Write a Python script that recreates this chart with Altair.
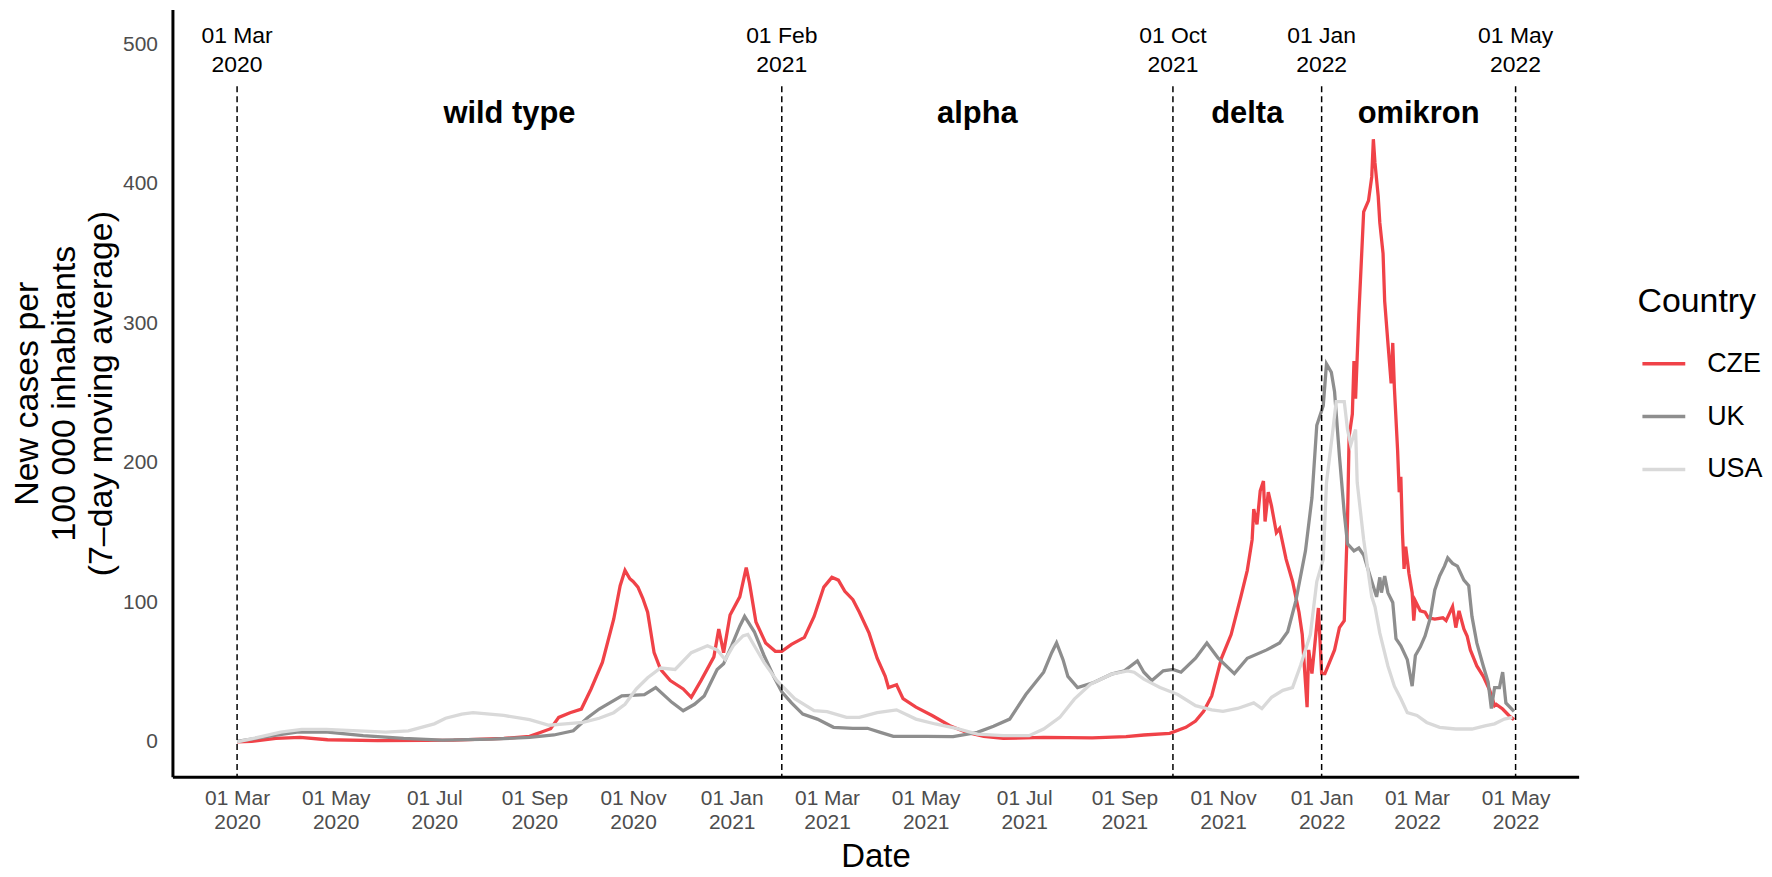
import altair as alt
import pandas as pd

# ---------------- data ----------------
countries = ["CZE", "UK", "USA"]
country_colors = ["#f04248", "#8e8e8e", "#d9d9d9"]

cze_dates = [
    "2020-03-01", "2020-03-10", "2020-03-25", "2020-04-09", "2020-04-26", "2020-05-27",
    "2020-06-25", "2020-07-13", "2020-08-13", "2020-08-29", "2020-09-05", "2020-09-11",
    "2020-09-16", "2020-09-23", "2020-09-30", "2020-10-06", "2020-10-13", "2020-10-20",
    "2020-10-24", "2020-10-27", "2020-10-30", "2020-11-01", "2020-11-04", "2020-11-07",
    "2020-11-10", "2020-11-14", "2020-11-18", "2020-11-24", "2020-12-02", "2020-12-07",
    "2020-12-13", "2020-12-21", "2020-12-24", "2020-12-27", "2020-12-31", "2021-01-06",
    "2021-01-10", "2021-01-12", "2021-01-16", "2021-01-22", "2021-01-28", "2021-02-01",
    "2021-02-07", "2021-02-15", "2021-02-21", "2021-02-27", "2021-03-04", "2021-03-08",
    "2021-03-12", "2021-03-17", "2021-03-21", "2021-03-27", "2021-04-01", "2021-04-06",
    "2021-04-08", "2021-04-13", "2021-04-17", "2021-04-25", "2021-05-05", "2021-05-16",
    "2021-05-26", "2021-06-06", "2021-06-18", "2021-07-13", "2021-08-12", "2021-09-02",
    "2021-09-13", "2021-09-29", "2021-10-09", "2021-10-15", "2021-10-20", "2021-10-25",
    "2021-10-31", "2021-11-06", "2021-11-12", "2021-11-16", "2021-11-19", "2021-11-20",
    "2021-11-22", "2021-11-24", "2021-11-26", "2021-11-27", "2021-11-29", "2021-12-01",
    "2021-12-04", "2021-12-06", "2021-12-10", "2021-12-14", "2021-12-18", "2021-12-20",
    "2021-12-23", "2021-12-24", "2021-12-26", "2021-12-30", "2022-01-01", "2022-01-03",
    "2022-01-09", "2022-01-12", "2022-01-15", "2022-01-17", "2022-01-18", "2022-01-20",
    "2022-01-21", "2022-01-22", "2022-01-24", "2022-01-27", "2022-01-30", "2022-02-01",
    "2022-02-02", "2022-02-03", "2022-02-05", "2022-02-06", "2022-02-08", "2022-02-09",
    "2022-02-11", "2022-02-13", "2022-02-14", "2022-02-15", "2022-02-17", "2022-02-18",
    "2022-02-19", "2022-02-20", "2022-02-21", "2022-02-22", "2022-02-24", "2022-02-26",
    "2022-02-27", "2022-02-28", "2022-03-03", "2022-03-06", "2022-03-08", "2022-03-12",
    "2022-03-17", "2022-03-19", "2022-03-23", "2022-03-25", "2022-03-27", "2022-03-30",
    "2022-04-01", "2022-04-03", "2022-04-07", "2022-04-11", "2022-04-15", "2022-04-18",
    "2022-04-19", "2022-04-23", "2022-04-27", "2022-04-30",
]
cze_values = [
    0, 0.5, 2.6, 3.3, 1.6, 1.0,
    1.2, 1.4, 2.6, 4, 7, 9.5,
    17.6, 21, 23.6, 38, 57, 88,
    112, 123, 117, 115, 111, 103,
    93, 64, 52, 44, 38, 32,
    44, 61, 81, 64, 91, 104,
    125, 114, 86, 71, 65, 65,
    70, 75, 90, 111, 118, 116,
    108, 102, 93, 78, 60, 47,
    39, 41, 31, 25, 19, 11.6,
    7, 4, 2.6, 3.3, 2.9, 3.8,
    5, 6.2, 10.5, 15, 22, 33,
    60, 77, 104, 123, 145, 167,
    156, 180, 187, 158, 179, 169,
    150, 153, 131, 115, 93, 77,
    25, 66, 49, 96, 49, 49,
    66, 82, 87, 158, 219, 235,
    273, 246, 306, 380, 388, 405,
    432, 415, 391, 372, 350, 316,
    286, 257, 286, 254, 209, 179,
    190, 150, 124, 140, 121, 107,
    87, 101, 94, 93, 89, 88,
    89, 87, 97, 82, 94, 81,
    76, 66, 54.5, 47, 37, 26,
    27, 23.6, 18.8, 16,
]

uk_dates = [
    "2020-03-01", "2020-03-18", "2020-04-07", "2020-04-26", "2020-05-18", "2020-06-12",
    "2020-07-06", "2020-08-06", "2020-08-29", "2020-09-13", "2020-09-25", "2020-10-04",
    "2020-10-11", "2020-10-25", "2020-11-08", "2020-11-15", "2020-11-25", "2020-12-02",
    "2020-12-09", "2020-12-15", "2020-12-23", "2020-12-27", "2021-01-01", "2021-01-06",
    "2021-01-09", "2021-01-15", "2021-01-21", "2021-01-27", "2021-02-01", "2021-02-07",
    "2021-02-14", "2021-02-23", "2021-03-05", "2021-03-17", "2021-03-26", "2021-04-03",
    "2021-04-11", "2021-05-01", "2021-05-18", "2021-06-02", "2021-06-12", "2021-06-22",
    "2021-07-02", "2021-07-13", "2021-07-18", "2021-07-21", "2021-07-25", "2021-07-28",
    "2021-08-03", "2021-08-13", "2021-08-24", "2021-09-01", "2021-09-09", "2021-09-13",
    "2021-09-18", "2021-09-25", "2021-10-01", "2021-10-06", "2021-10-15", "2021-10-22",
    "2021-10-29", "2021-11-08", "2021-11-16", "2021-11-28", "2021-12-06", "2021-12-11",
    "2021-12-16", "2021-12-22", "2021-12-26", "2021-12-29", "2022-01-02", "2022-01-04",
    "2022-01-07", "2022-01-09", "2022-01-12", "2022-01-15", "2022-01-17", "2022-01-21",
    "2022-01-24", "2022-01-27", "2022-02-01", "2022-02-04", "2022-02-06", "2022-02-07",
    "2022-02-09", "2022-02-11", "2022-02-14", "2022-02-16", "2022-02-19", "2022-02-23",
    "2022-02-26", "2022-02-28", "2022-03-03", "2022-03-06", "2022-03-09", "2022-03-12",
    "2022-03-15", "2022-03-18", "2022-03-20", "2022-03-23", "2022-03-26", "2022-03-30",
    "2022-04-02", "2022-04-04", "2022-04-07", "2022-04-11", "2022-04-14", "2022-04-16",
    "2022-04-18", "2022-04-21", "2022-04-23", "2022-04-25", "2022-04-30",
]
uk_values = [
    0.5, 3.6, 7, 7, 4.5, 2.6,
    1.4, 2, 3.3, 5, 8, 17.6,
    23.6, 33, 34, 39, 28.4, 22.4,
    27, 33, 52, 56, 69, 83,
    90, 79, 62, 47, 36, 28,
    20, 16.4, 10.5, 9.8, 9.8, 6.9,
    4, 4, 3.8, 6.9, 11.2, 16.4,
    34, 50, 64, 71, 59, 47,
    39, 42.6, 48.6, 51, 58, 50,
    44, 51, 52, 50, 60, 71,
    60, 49, 60, 66, 71, 79,
    101, 137, 175, 227, 241, 271,
    265, 251, 205, 164, 142, 137,
    139, 134, 115, 104, 118, 107,
    119, 107, 100, 74, 69, 59,
    40, 62, 68, 76, 88, 109,
    119, 126, 132, 128, 126, 116,
    112, 90, 71, 54.5, 43, 24,
    39, 39, 50, 28, 22,
]

usa_dates = [
    "2020-03-01", "2020-03-09", "2020-03-28", "2020-04-10", "2020-04-25", "2020-05-15",
    "2020-06-01", "2020-06-15", "2020-07-01", "2020-07-08", "2020-07-18", "2020-07-25",
    "2020-08-13", "2020-08-29", "2020-09-10", "2020-09-20", "2020-10-01", "2020-10-11",
    "2020-10-20", "2020-10-27", "2020-11-03", "2020-11-10", "2020-11-18", "2020-11-27",
    "2020-12-07", "2020-12-17", "2020-12-23", "2020-12-28", "2021-01-02", "2021-01-08",
    "2021-01-11", "2021-01-15", "2021-01-21", "2021-01-29", "2021-02-09", "2021-02-21",
    "2021-03-01", "2021-03-13", "2021-03-21", "2021-04-01", "2021-04-13", "2021-04-25",
    "2021-05-07", "2021-05-20", "2021-06-02", "2021-06-18", "2021-07-04", "2021-07-13",
    "2021-07-23", "2021-08-01", "2021-08-11", "2021-08-24", "2021-09-03", "2021-09-07",
    "2021-09-13", "2021-09-23", "2021-10-04", "2021-10-15", "2021-10-25", "2021-11-01",
    "2021-11-10", "2021-11-20", "2021-11-25", "2021-12-01", "2021-12-08", "2021-12-14",
    "2021-12-19", "2021-12-25", "2021-12-29", "2022-01-02", "2022-01-04", "2022-01-08",
    "2022-01-10", "2022-01-12", "2022-01-15", "2022-01-17", "2022-01-19", "2022-01-22",
    "2022-01-23", "2022-01-27", "2022-02-01", "2022-02-03", "2022-02-06", "2022-02-11",
    "2022-02-15", "2022-02-19", "2022-02-23", "2022-03-01", "2022-03-07", "2022-03-15",
    "2022-03-25", "2022-04-04", "2022-04-12", "2022-04-18", "2022-04-24", "2022-04-29",
]
usa_values = [
    0, 2, 7, 9, 9, 8,
    7, 8, 13, 17, 20, 21,
    19, 16, 12, 13, 14, 17,
    21, 27, 38, 46, 53, 52,
    64, 69, 66, 59, 69, 76,
    77, 69, 57, 44, 31, 22.4,
    21.7, 17.6, 17.6, 21, 23, 16.4,
    12.9, 9.8, 5.7, 4.5, 4.5, 9.3,
    17.6, 30.7, 41.4, 48.6, 51, 50,
    45, 39, 34, 26, 23, 22,
    24, 28, 24, 32, 37, 39,
    55, 77, 115, 131, 186, 224,
    244, 244, 244, 224, 213, 224,
    186, 145, 104, 97, 78, 54.5,
    40, 31, 21, 19, 14, 10.5,
    9.3, 9.3, 11.6, 13, 16.4, 17.6,
]

period_starts = ["2020-03-01", "2021-02-01", "2021-10-01", "2022-01-01", "2022-05-01"]
period_start_labels = ["01 Mar\n2020", "01 Feb\n2021", "01 Oct\n2021", "01 Jan\n2022", "01 May\n2022"]
variant_names = ["wild type", "alpha", "delta", "omikron"]

tick_dates = [
    "2020-03-01", "2020-05-01", "2020-07-01", "2020-09-01", "2020-11-01",
    "2021-01-01", "2021-03-01", "2021-05-01", "2021-07-01", "2021-09-01",
    "2021-11-01", "2022-01-01", "2022-03-01", "2022-05-01",
]
y_ticks = [0, 100, 200, 300, 400, 500]

# ---------------- tables ----------------
rows = []
for c, ds, vs in [("CZE", cze_dates, cze_values), ("UK", uk_dates, uk_values), ("USA", usa_dates, usa_values)]:
    for d, v in zip(ds, vs):
        rows.append({"date": pd.Timestamp(d), "value": v, "country": c})
lines_df = pd.DataFrame(rows)

starts = [pd.Timestamp(d) for d in period_starts]
rules_df = pd.DataFrame({"date": starts, "label": period_start_labels})
variant_df = pd.DataFrame({
    "date": [starts[i] + (starts[i + 1] - starts[i]) / 2 for i in range(len(variant_names))],
    "variant": variant_names,
})


def dt(s):
    t = pd.Timestamp(s)
    return alt.DateTime(year=t.year, month=t.month, date=t.day)


FONT = "Liberation Sans"

x_enc = alt.X(
    "date:T",
    scale=alt.Scale(domain=[dt("2020-01-21"), dt("2022-06-09")]),
    axis=alt.Axis(
        title="Date",
        values=[dt(d) for d in tick_dates],
        labelExpr="[timeFormat(datum.value, '%d %b'), timeFormat(datum.value, '%Y')]",
        labelBaseline="top",
        labelLineHeight=24,
        labelPadding=11,
        labelOverlap=False,
        labelFlush=False,
        titleFontSize=33,
        titleBaseline="alphabetic",
        titleY=90,
    ),
)
y_enc = alt.Y(
    "value:Q",
    scale=alt.Scale(domain=[-25, 525], nice=False, zero=False),
    axis=alt.Axis(
        title=["New cases per", "100 000 inhabitants", "(7\u2013day moving average)"],
        values=y_ticks,
        labelPadding=15,
        titleFontSize=34,
        titleLineHeight=37,
        titleAngle=270,
        titleBaseline="middle",
        titleAlign="center",
        titleX=-145,
        titleY=385,
    ),
)

lines = alt.Chart(lines_df).mark_line(strokeWidth=3.3).encode(
    x=x_enc,
    y=y_enc,
    color=alt.Color(
        "country:N",
        scale=alt.Scale(domain=countries, range=country_colors),
        legend=alt.Legend(
            title="Country",
            orient="none",
            legendX=1470,
            legendY=277,
        ),
    ),
)

rules = alt.Chart(rules_df).mark_rule(color="black", strokeWidth=1.5, strokeDash=[6, 4]).encode(
    x="date:T",
    y=alt.datum(470),
    y2=alt.datum(-25),
)

date_text = alt.Chart(rules_df).mark_text(
    lineBreak="\n", fontSize=23, lineHeight=29, baseline="middle", align="center",
    color="black", font=FONT,
).encode(
    x="date:T",
    y=alt.datum(506),
    text="label:N",
)

variant_text = alt.Chart(variant_df).mark_text(
    fontSize=31, fontWeight="bold", baseline="middle", align="center", color="black", font=FONT,
).encode(
    x="date:T",
    y=alt.datum(450),
    text="variant:N",
)

chart = alt.layer(lines, rules, date_text, variant_text).properties(
    width=1411,
    height=770,
    autosize=alt.AutoSizeParams(type="none"),
    padding={"left": 165, "top": 0, "right": 186, "bottom": 97},
).configure(
    font=FONT,
).configure_view(
    stroke=None,
).configure_axis(
    grid=False,
    ticks=False,
    domainColor="black",
    domainWidth=3,
    labelFont=FONT,
    titleFont=FONT,
    labelFontSize=21,
    labelColor="#4d4d4d",
    titleColor="black",
    titleFontWeight="normal",
).configure_legend(
    titleFont=FONT,
    labelFont=FONT,
    titleFontSize=34,
    titleFontWeight="normal",
    titleColor="black",
    titlePadding=21,
    labelFontSize=27,
    labelColor="black",
    labelOffset=20,
    symbolOffset=3,
    symbolType="stroke",
    symbolSize=1849,
    symbolStrokeWidth=3.5,
    rowPadding=16,
    padding=0,
)

chart.save("out.html", embed_options={"renderer": "svg", "actions": False})
